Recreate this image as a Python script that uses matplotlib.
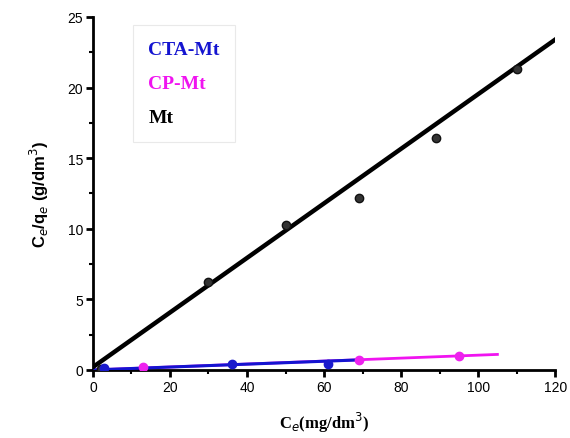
import numpy as np
import matplotlib.pyplot as plt

# data
mt_x = [2, 30, 50, 69, 89, 110]
mt_y = [0.1, 6.2, 10.3, 12.2, 16.4, 21.3]
mt_fit_x = [0, 120]
mt_fit_y = [0.2, 23.4]

cta_x = [3, 36, 61]
cta_y = [0.15, 0.4, 0.45]
cta_fit_x = [0, 68]
cta_fit_y = [0.0, 0.7]

cp_x = [13, 69, 95]
cp_y = [0.2, 0.7, 1.0]
cp_fit_x = [0, 105]
cp_fit_y = [0.0, 1.1]

fig = plt.figure(figsize=(5.7, 4.39), dpi=100)
ax = fig.add_axes([0.163, 0.155, 0.811, 0.804])

# fitted lines
ax.plot(cta_fit_x, cta_fit_y, color='#1414d0', lw=2.2, label='CTA-Mt', zorder=3)
ax.plot(cp_fit_x, cp_fit_y, color='#f014f0', lw=2.0, label='CP-Mt', zorder=2)
ax.plot(mt_fit_x, mt_fit_y, color='black', lw=3.2, label='Mt', zorder=4)

# points
ax.plot(mt_x, mt_y, 'o', ms=6, color='#333333', mec='#111111', zorder=5)
ax.plot(cta_x, cta_y, 'o', ms=6, color='#1a1acc', zorder=5)
ax.plot(cp_x, cp_y, 'o', ms=6, color='#ee22ee', zorder=4)

ax.set_xlim(0, 120)
ax.set_ylim(0, 25)
ax.set_xticks([0, 20, 40, 60, 80, 100, 120])
ax.set_yticks([0, 5, 10, 15, 20, 25])
ax.set_xticks(np.arange(10, 120, 20), minor=True)
ax.set_yticks(np.arange(2.5, 25, 5), minor=True)

for s in ['top', 'right']:
    ax.spines[s].set_visible(False)
for s in ['left', 'bottom']:
    ax.spines[s].set_linewidth(2)

ax.tick_params(which='major', direction='out', length=5, width=2,
               labelsize=10, pad=2)
ax.tick_params(which='minor', direction='out', length=3, width=1.5)
for lab in ax.get_xticklabels() + ax.get_yticklabels():
    lab.set_family('Liberation Sans')

ax.set_xlabel(r'C$_e$(mg/dm$^3$)', family='Liberation Serif',
              fontweight='bold', fontsize=12, labelpad=12)
ax.set_ylabel(r'C$_e$/q$_e$ (g/dm$^3$)', family='Liberation Sans',
              fontweight='bold', fontsize=12, labelpad=12)

leg = ax.legend(loc='upper left', bbox_to_anchor=(0.065, 1.005),
                handlelength=0, handletextpad=0, labelspacing=0.85,
                labelcolor='linecolor', fancybox=False, borderpad=0.8,
                prop={'family': 'Liberation Serif', 'weight': 'bold', 'size': 14})
leg.get_frame().set_edgecolor('#e4e4e4')
leg.get_frame().set_linewidth(0.8)
for h in leg.legend_handles:
    h.set_visible(False)

fig.savefig('out.png', dpi=100)
